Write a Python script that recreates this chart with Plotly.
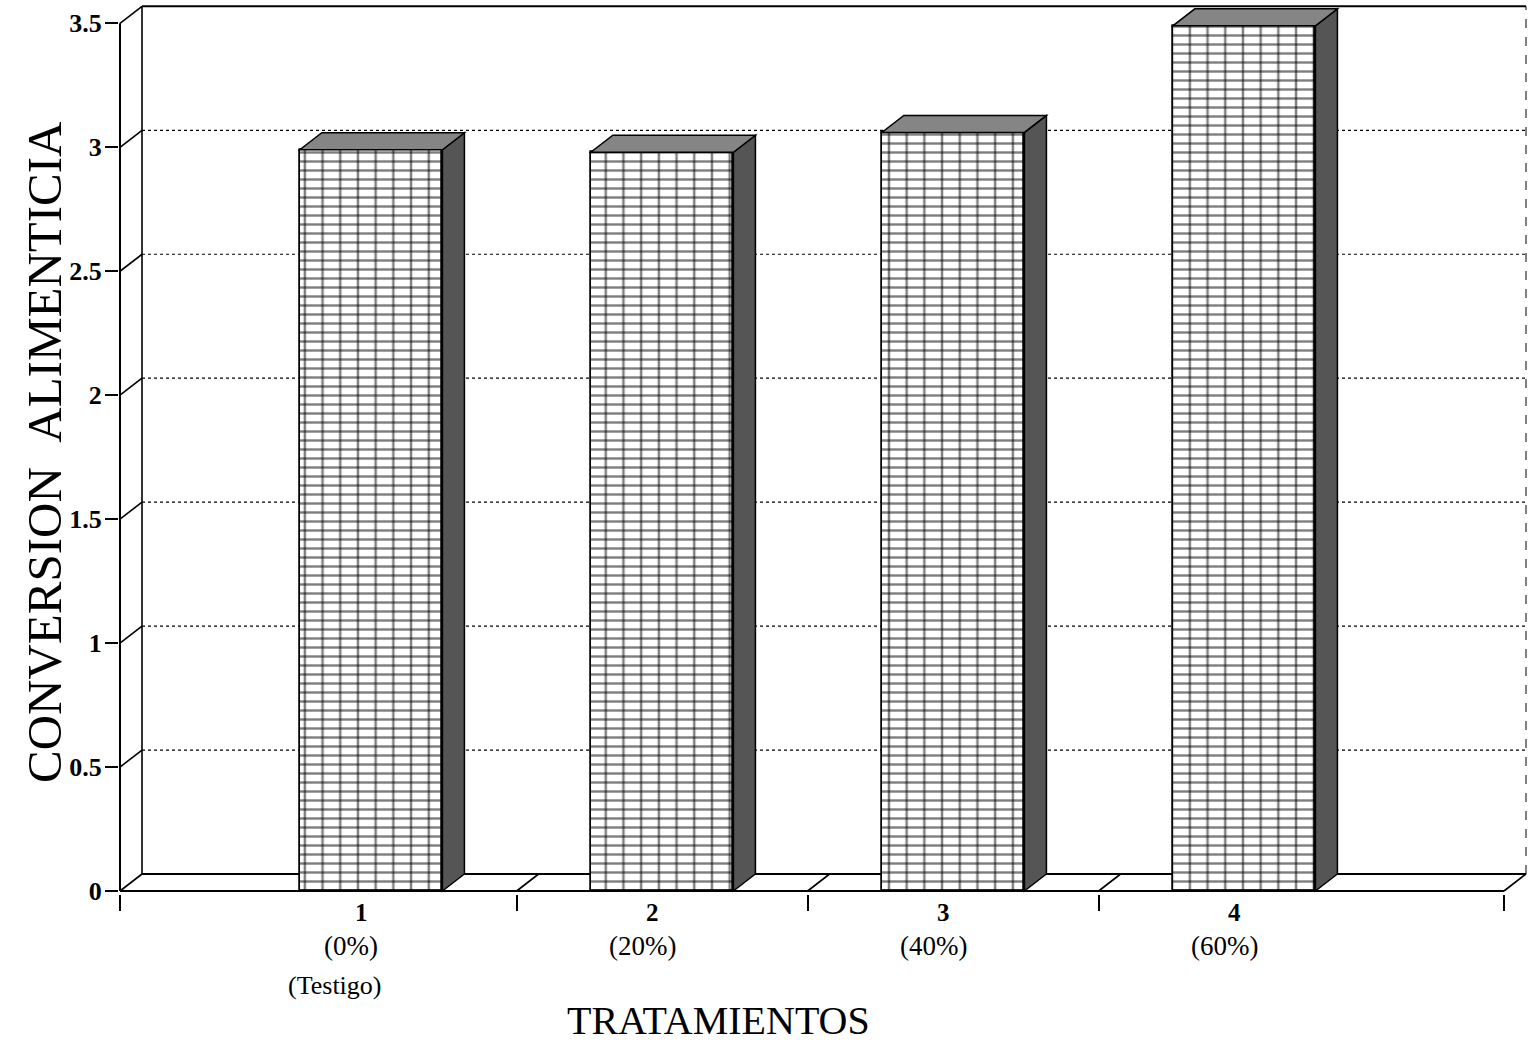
import plotly.graph_objects as go

# ---------------- data ----------------
categories = [1, 2, 3, 4]
cat_numbers = ["1", "2", "3", "4"]
cat_percents = ["(0%)", "(20%)", "(40%)", "(60%)"]
cat_notes = ["(Testigo)", "", "", ""]
conversion = [2.99, 2.98, 3.06, 3.49]
y_ticks = [0, 0.5, 1, 1.5, 2, 2.5, 3, 3.5]
y_ticktext = ["0", "0.5", "1", "1.5", "2", "2.5", "3", "3.5"]
boundaries = [1.5, 2.5, 3.5]

# ---------------- geometry (pixel scale of the scan) ----------------
W, H = 1528, 1053
PX = 291.0          # pixels per category unit
PY = 247.9          # pixels per y unit
X_LEFT = 0.137      # front y-axis position
DX = 22 / PX        # 3D depth offset (x)
DY = 17 / PY        # 3D depth offset (y)
X_RIGHT = X_LEFT + 1406 / PX
X_END = X_RIGHT - DX
Y_TOP = 3.5
BAR_W = 0.49

ML = 119
x_range = [X_LEFT - 1 / PX, X_LEFT - 1 / PX + (W - ML) / PX]
y_bottom_px = 894
y0_px = 891
MT = 4
MB = H - y_bottom_px
PLOT_H = H - MT - MB
PLOT_W = W - ML
y_range = [-(y_bottom_px - y0_px) / PY, (y0_px - MT) / PY]


def py(pix):
    return (y_bottom_px - pix) / PLOT_H


def pxp(pix):
    return (pix - ML) / PLOT_W


SERIF = "Liberation Serif, Times New Roman, serif"

fig = go.Figure()

# front faces: horizontal lines + vertical lines pattern (grid)
fig.add_trace(go.Bar(
    x=categories, y=conversion, width=BAR_W,
    marker=dict(color="white", line=dict(color="black", width=1.5),
                pattern=dict(shape="-", size=9, solidity=0.27, fgcolor="black", bgcolor="white")),
    hoverinfo="skip", showlegend=False))
fig.add_trace(go.Bar(
    x=categories, y=conversion, width=BAR_W,
    marker=dict(color="rgba(0,0,0,0)", line=dict(color="black", width=1.5),
                pattern=dict(shape="|", size=17.7, solidity=0.14, fgcolor="black",
                             bgcolor="rgba(0,0,0,0)")),
    hoverinfo="skip", showlegend=False))

shapes = []
line_k = dict(color="black", width=1.6)

# back-wall gridlines (dotted) and left-wall diagonals
for v in y_ticks:
    shapes.append(dict(type="line", xref="x", yref="y", x0=X_LEFT, y0=v,
                       x1=X_LEFT + DX, y1=v + DY, line=line_k, layer="below"))
    if 0 < v < Y_TOP:
        shapes.append(dict(type="line", xref="x", yref="y", x0=X_LEFT + DX, y0=v + DY,
                           x1=X_RIGHT, y1=v + DY,
                           line=dict(color="black", width=1.2, dash="dot"), layer="below"))

# frame
shapes += [
    dict(type="line", xref="x", yref="y", x0=X_LEFT, y0=0, x1=X_LEFT, y1=Y_TOP, line=dict(color="black", width=2)),
    dict(type="line", xref="x", yref="y", x0=X_LEFT + DX, y0=DY, x1=X_LEFT + DX, y1=Y_TOP + DY, line=line_k, layer="below"),
    dict(type="line", xref="x", yref="y", x0=X_LEFT + DX, y0=Y_TOP + DY, x1=X_RIGHT, y1=Y_TOP + DY, line=dict(color="black", width=2), layer="below"),
    dict(type="line", xref="x", yref="y", x0=X_RIGHT, y0=DY, x1=X_RIGHT, y1=Y_TOP + DY, line=dict(color="black", width=1, dash="dash"), layer="below"),
    dict(type="line", xref="x", yref="y", x0=X_LEFT + DX, y0=DY, x1=X_RIGHT, y1=DY, line=dict(color="black", width=2), layer="below"),
    dict(type="line", xref="x", yref="y", x0=X_LEFT, y0=0, x1=X_END, y1=0, line=dict(color="black", width=2.2)),
    dict(type="line", xref="x", yref="y", x0=X_END, y0=0, x1=X_RIGHT, y1=DY, line=line_k),
]
for b in boundaries:
    shapes.append(dict(type="line", xref="x", yref="y", x0=b, y0=0, x1=b + DX, y1=DY, line=line_k, layer="below"))

# 3D side and top faces of bars
for c, v in zip(categories, conversion):
    x0, x1 = c - BAR_W / 2, c + BAR_W / 2
    side = f"M {x1},0 L {x1 + DX},{DY} L {x1 + DX},{v + DY} L {x1},{v} Z"
    top = f"M {x0},{v} L {x1},{v} L {x1 + DX},{v + DY} L {x0 + DX},{v + DY} Z"
    shapes.append(dict(type="path", xref="x", yref="y", path=side, fillcolor="#555555",
                       line=dict(color="black", width=1.5)))
    shapes.append(dict(type="path", xref="x", yref="y", path=top, fillcolor="#858585",
                       line=dict(color="black", width=1.5)))

ann_common = dict(showarrow=False, xanchor="center", yanchor="middle")
annotations = []
for c, n, p, t in zip(categories, cat_numbers, cat_percents, cat_notes):
    annotations.append(dict(x=c, xref="x", y=py(912), yref="paper", text=f"<b>{n}</b>",
                            xshift=-10, font=dict(family=SERIF, size=25, color="black"), **ann_common))
    annotations.append(dict(x=c, xref="x", y=py(946), yref="paper", text=p,
                            xshift=-20, font=dict(family=SERIF, size=27, color="black"), **ann_common))
    if t:
        annotations.append(dict(x=c, xref="x", y=py(985), yref="paper", text=t,
                                xshift=-36, font=dict(family=SERIF, size=26, color="black"), **ann_common))

annotations.append(dict(x=pxp(718), xref="paper", y=py(1020), yref="paper",
                        text="TRATAMIENTOS",
                        font=dict(family=SERIF, size=40, color="black"), **ann_common))
annotations.append(dict(x=pxp(44), xref="paper", y=py(452), yref="paper",
                        text="CONVERSION&nbsp;&nbsp;ALIMENTICIA", textangle=-90,
                        font=dict(family=SERIF, size=49, color="black"), **ann_common))

fig.update_layout(
    width=W, height=H,
    margin=dict(l=ML, r=0, t=MT, b=MB),
    plot_bgcolor="white", paper_bgcolor="white",
    barmode="overlay", bargap=0,
    shapes=shapes, annotations=annotations,
    xaxis=dict(range=x_range, showgrid=False, zeroline=False, showline=False,
               tickmode="array", tickvals=[X_LEFT] + boundaries + [X_END],
               ticktext=[""] * (len(boundaries) + 2),
               ticks="outside", ticklen=16, tickwidth=2, tickcolor="black"),
    yaxis=dict(range=y_range, showgrid=False, zeroline=False, showline=False,
               tickmode="array", tickvals=y_ticks, ticktext=y_ticktext,
               ticks="outside", ticklen=13, tickwidth=2, tickcolor="black",
               ticklabelstandoff=-2,
               tickfont=dict(family=SERIF, size=26, color="black", weight="bold")),
)

fig.write_html("out.html", config={"displayModeBar": False},
               post_script="document.body.style.margin='0';")
